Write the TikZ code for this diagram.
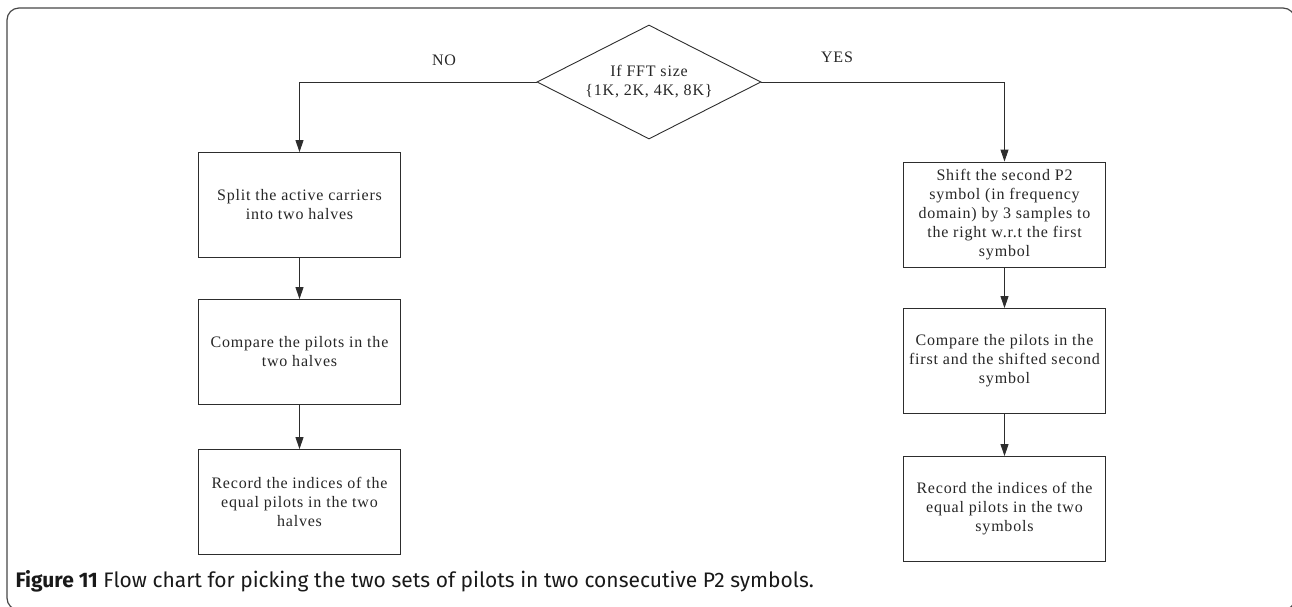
\documentclass[tikz,border=0pt]{standalone}
\usepackage{fontspec}
\setmainfont{Liberation Serif}[LetterSpace=5]
\newfontfamily\captionfont{Fira Sans}
\usetikzlibrary{shapes.geometric, arrows.meta, positioning}
\definecolor{linegray}{RGB}{45,45,45}
\definecolor{framegray}{RGB}{70,70,70}

\begin{document}
\begin{tikzpicture}[x=1pt, y=-1pt,
    font=\fontsize{16}{19}\selectfont, text=black!85,
    stepbox/.style={rectangle, draw=linegray, line width=0.9pt, minimum width=202pt, minimum height=105pt, align=center, inner sep=0pt},
    decision/.style={diamond, draw=linegray, line width=0.9pt, aspect=1.9, minimum width=224pt, minimum height=114pt, align=center, inner sep=0pt},
    flowline/.style={draw=linegray, line width=0.9pt, -{Triangle[length=12pt,width=8pt]}}]
    \useasboundingbox (0,0) rectangle (1292,606);

    % Cornice esterna
    \draw[framegray, line width=1.2pt, rounded corners=12pt] (7,8) rectangle (1295,610);

    % Decisione
    \node[decision] (fft) at (649,82) {If FFT size\\\{1K, 2K, 4K, 8K\}};
    \node (no) at (444,60) {NO};
    \node (yes) at (837,57) {YES};

    % Ramo NO
    \node[stepbox] (split) at (299.5,205) {Split the active carriers\\into two halves};
    \node[stepbox] (cmphalf) at (299.5,352) {Compare the pilots in the\\two halves};
    \node[stepbox] (rechalf) at (299.5,502) {Record the indices of the\\equal pilots in the two\\halves};

    % Ramo YES
    \node[stepbox] (shift) at (1004.5,214.5) {Shift the second P2\\symbol (in frequency\\domain) by 3 samples to\\the right w.r.t the first\\symbol};
    \node[stepbox] (cmpsym) at (1004.5,361) {Compare the pilots in the\\first and the shifted second\\symbol};
    \node[stepbox] (recsym) at (1004.5,509) {Record the indices of the\\equal pilots in the two\\symbols};

    % Connessioni
    \draw[flowline] (fft.west) -| (split.north);
    \draw[flowline] (fft.east) -| (shift.north);
    \draw[flowline] (split) -- (cmphalf);
    \draw[flowline] (cmphalf) -- (rechalf);
    \draw[flowline] (shift) -- (cmpsym);
    \draw[flowline] (cmpsym) -- (recsym);

    % Didascalia
    \node[anchor=west, font=\captionfont\fontsize{21}{24}\selectfont, text=black!90] (caption) at (12,581)
        {\textbf{Figure 11} Flow chart for picking the two sets of pilots in two consecutive P2 symbols.};
\end{tikzpicture}
\end{document}
